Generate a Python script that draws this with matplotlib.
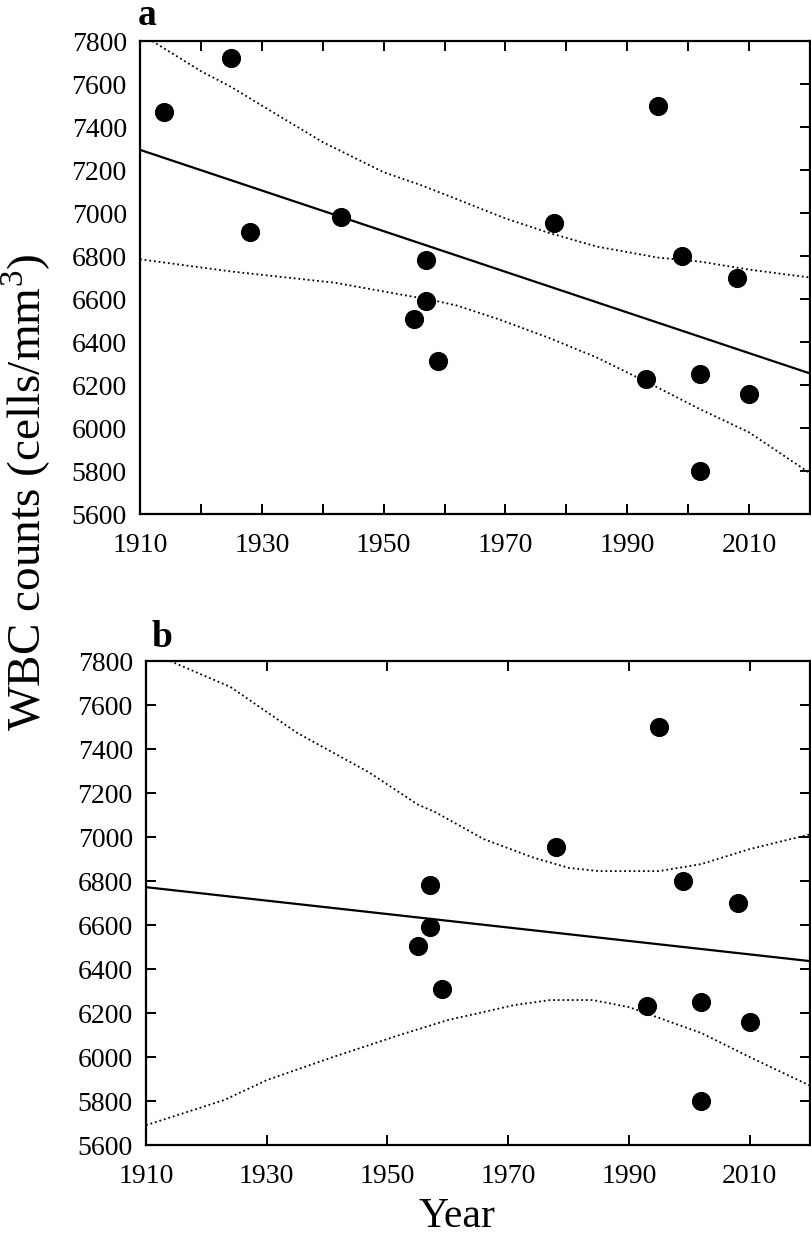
import matplotlib
matplotlib.use("Agg")
import matplotlib.pyplot as plt

plt.rcParams['font.family'] = ['Liberation Serif', 'DejaVu Serif']
plt.rcParams['mathtext.fontset'] = 'custom'
plt.rcParams['mathtext.rm'] = 'Liberation Serif'

# panel a: all observations
year_a = [1914, 1925, 1928, 1943, 1955, 1957, 1957, 1959, 1978, 1993, 1995, 1999, 2002, 2002, 2008, 2010]
wbc_a = [7470, 7720, 6910, 6980, 6505, 6780, 6590, 6310, 6955, 6230, 7500, 6800, 6250, 5800, 6700, 6160]
fit_a_x = [1910, 2020]
fit_a_y = [7294, 6254]
upper_a_x = [1912, 1920, 1925, 1930, 1940, 1950, 1956, 1961, 1970, 1977, 1985, 1995, 2002, 2010, 2020]
upper_a_y = [7800, 7660, 7586, 7500, 7330, 7190, 7131, 7076, 6975, 6909, 6844, 6793, 6774, 6737, 6700]
lower_a_x = [1910, 1925, 1942, 1953, 1958, 1962, 1969, 1977, 1985, 1994, 2002, 2010, 2020]
lower_a_y = [6785, 6728, 6676, 6620, 6595, 6570, 6505, 6421, 6328, 6203, 6087, 5980, 5790]

# panel b: observations from 1955 on
year_b = [1955, 1957, 1957, 1959, 1978, 1993, 1995, 1999, 2002, 2002, 2008, 2010]
wbc_b = [6505, 6780, 6590, 6310, 6955, 6230, 7500, 6800, 6250, 5800, 6700, 6160]
fit_b_x = [1910, 2020]
fit_b_y = [6772, 6436]
upper_b_x = [1914, 1924, 1935, 1947, 1955, 1958, 1966, 1974, 1980, 1985, 1995, 2002, 2010, 2020]
upper_b_y = [7800, 7682, 7474, 7293, 7148, 7112, 6990, 6908, 6860, 6845, 6845, 6877, 6945, 7012]
lower_b_x = [1910, 1923, 1930, 1941, 1952, 1960, 1971, 1977, 1984, 1990, 1996, 2002, 2010, 2020]
lower_b_y = [5690, 5805, 5895, 6000, 6100, 6168, 6236, 6259, 6259, 6227, 6168, 6109, 6000, 5870]

yticks = list(range(5600, 7801, 200))
xlabels = [1910, 1930, 1950, 1970, 1990, 2010]

fig = plt.figure(figsize=(8.12, 12.36), dpi=100)
ax_a = fig.add_axes([0.1724, 0.5841, 0.8251, 0.3827])
ax_b = fig.add_axes([0.1798, 0.0736, 0.8177, 0.3916])

dot = (0, (1, 1.6))

for ax, xs, ys, fx, fy, ux, uy, lx, ly in [
        (ax_a, year_a, wbc_a, fit_a_x, fit_a_y, upper_a_x, upper_a_y, lower_a_x, lower_a_y),
        (ax_b, year_b, wbc_b, fit_b_x, fit_b_y, upper_b_x, upper_b_y, lower_b_x, lower_b_y)]:
    ax.plot(fx, fy, color='black', lw=1.6)
    ax.plot(ux, uy, color='black', lw=1.3, linestyle=dot)
    ax.plot(lx, ly, color='black', lw=1.3, linestyle=dot)
    ax.plot(xs, ys, 'o', color='black', markersize=12.8)
    ax.set_xlim(1910, 2020)
    ax.set_ylim(5600, 7800)
    ax.set_yticks(yticks)
    for s in ax.spines.values():
        s.set_linewidth(1.6)
    ax.tick_params(direction='in', length=7, width=1.4, labelsize=20,
                   top=True, right=True)
    ax.tick_params(axis='x', pad=13.5)
    ax.tick_params(axis='y', pad=9.5)

# panel a: ticks every 10 years, labels every 20
ax_a.set_xticks(list(range(1910, 2021, 10)))
ax_a.set_xticklabels([str(t) if t in xlabels else '' for t in range(1910, 2021, 10)])
ax_a.tick_params(axis='y', left=False, labelleft=True)
# panel b: ticks every 20 years
ax_b.set_xticks(xlabels)
ax_b.set_xticklabels([str(t) for t in xlabels])

fig.text(0.170, 0.980, 'a', fontsize=27, fontweight='bold', ha='left', va='baseline')
fig.text(0.187, 0.4765, 'b', fontsize=27, fontweight='bold', ha='left', va='baseline')
fig.text(0.032, 0.602, 'WBC counts (cells/mm$^3$)', fontsize=34, rotation=90, ha='center', va='center')
fig.text(0.563, 0.0075, 'Year', fontsize=30, ha='center', va='baseline')

fig.savefig('out.png', dpi=100)
